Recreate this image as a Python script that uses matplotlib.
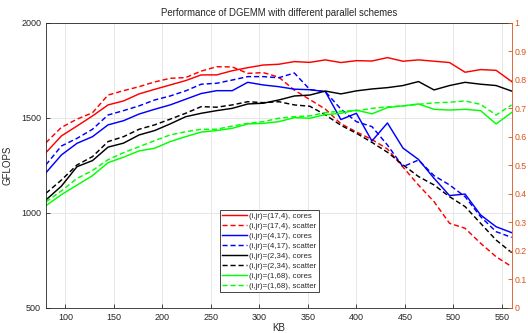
import matplotlib
matplotlib.use('Agg')
import matplotlib.pyplot as plt

plt.rcParams['font.family'] = ['Liberation Sans', 'DejaVu Sans']

kb = [80, 96, 112, 128, 144, 160, 176, 192, 208, 224, 240, 256, 272, 288, 304, 320,
      336, 352, 368, 384, 400, 416, 432, 448, 464, 480, 496, 512, 528, 544, 560]

red_cores = [1316, 1404, 1456, 1509, 1567, 1588, 1625, 1649, 1672, 1695, 1725, 1725, 1747, 1763, 1777, 1781,
             1795, 1791, 1804, 1790, 1800, 1798, 1816, 1797, 1804, 1797, 1790, 1739, 1753, 1749, 1690]
red_scatter = [1368, 1449, 1492, 1526, 1619, 1642, 1663, 1688, 1707, 1711, 1745, 1768, 1767, 1733, 1737, 1713,
               1645, 1595, 1545, 1468, 1425, 1385, 1335, 1240, 1145, 1058, 944, 918, 839, 768, 716]
blue_cores = [1210, 1304, 1365, 1400, 1462, 1484, 1519, 1544, 1567, 1597, 1627, 1642, 1642, 1686, 1672, 1663,
              1650, 1647, 1637, 1490, 1523, 1377, 1472, 1340, 1280, 1181, 1090, 1098, 988, 926, 895]
blue_scatter = [1252, 1351, 1391, 1439, 1514, 1537, 1562, 1593, 1614, 1641, 1676, 1681, 1698, 1716, 1716, 1710,
                1735, 1648, 1637, 1545, 1479, 1453, 1356, 1242, 1277, 1195, 1146, 1084, 979, 900, 870]
black_cores = [1067, 1140, 1242, 1274, 1345, 1366, 1409, 1432, 1467, 1505, 1523, 1537, 1549, 1572, 1576, 1593,
               1614, 1619, 1640, 1625, 1641, 1651, 1658, 1669, 1690, 1646, 1669, 1686, 1676, 1669, 1640]
black_scatter = [1102, 1172, 1251, 1295, 1374, 1400, 1439, 1462, 1492, 1523, 1558, 1555, 1567, 1584, 1579, 1584,
                 1567, 1560, 1515, 1460, 1418, 1370, 1318, 1252, 1190, 1146, 1084, 1032, 944, 856, 790]
green_cores = [1037, 1095, 1145, 1195, 1263, 1292, 1325, 1339, 1374, 1400, 1424, 1432, 1444, 1467, 1470, 1479,
               1500, 1497, 1516, 1523, 1540, 1520, 1553, 1562, 1572, 1544, 1540, 1544, 1537, 1467, 1527]
green_scatter = [1057, 1115, 1180, 1222, 1279, 1316, 1347, 1379, 1409, 1426, 1439, 1439, 1456, 1470, 1479, 1497,
                 1505, 1509, 1527, 1534, 1536, 1549, 1557, 1562, 1570, 1578, 1581, 1588, 1570, 1514, 1567]

series = [
    (red_cores, 'r', '-', '(i,jr)=(17,4), cores'),
    (red_scatter, 'r', '--', '(i,jr)=(17,4), scatter'),
    (blue_cores, 'b', '-', '(i,jr)=(4,17), cores'),
    (blue_scatter, 'b', '--', '(i,jr)=(4,17), scatter'),
    (black_cores, 'k', '-', '(i,jr)=(2,34), cores'),
    (black_scatter, 'k', '--', '(i,jr)=(2,34), scatter'),
    (green_cores, '#00ff00', '-', '(i,jr)=(1,68), cores'),
    (green_scatter, '#00ff00', '--', '(i,jr)=(1,68), scatter'),
]

axcol = '#262626'
orange = '#D95319'

fig = plt.figure(figsize=(5.28, 3.33), dpi=100)
ax = fig.add_axes([0.087, 0.076, 0.882, 0.856])

for vals, c, ls, lab in series:
    line, = ax.plot(kb, vals, color=c, linestyle=ls, linewidth=1.05, label=lab)
    if ls == '--':
        line.set_dashes((3.5, 2))

ax.set_xlim(80, 560)
ax.set_ylim(500, 2000)
ax.set_xticks([100, 150, 200, 250, 300, 350, 400, 450, 500, 550])
ax.set_yticks([500, 1000, 1500, 2000])
ax.grid(True, color='#e3e3e3', linewidth=0.6)
ax.set_axisbelow(True)
ax.tick_params(direction='in', length=3, width=0.6, labelsize=6.5, colors=axcol, top=False)
for s in ['left', 'bottom', 'top']:
    ax.spines[s].set_color(axcol)
    ax.spines[s].set_linewidth(0.6)
ax.spines['right'].set_visible(False)
ax.set_xlabel('KB', fontsize=7, color=axcol, labelpad=1)
ax.set_ylabel('GFLOPS', fontsize=7, color=axcol, labelpad=6)
ax.set_title('Performance of DGEMM with different parallel schemes', fontsize=6.9, color=axcol, pad=5)

ax2 = ax.twinx()
ax2.set_ylim(0, 1)
ax2.set_yticks([0, 0.1, 0.2, 0.3, 0.4, 0.5, 0.6, 0.7, 0.8, 0.9, 1])
ax2.set_yticklabels(['0', '0.1', '0.2', '0.3', '0.4', '0.5', '0.6', '0.7', '0.8', '0.9', '1'])
ax2.tick_params(direction='in', length=3, width=0.6, labelsize=6.3, colors=orange, pad=2)
ax2.spines['right'].set_color(orange)
ax2.spines['right'].set_linewidth(0.6)
for s in ['left', 'bottom', 'top']:
    ax2.spines[s].set_visible(False)

leg = ax.legend(loc='lower left', bbox_to_anchor=(0.373, 0.055), fontsize=5.7,
                handlelength=3.2, handletextpad=0.2, labelspacing=0.3, borderpad=0.3,
                borderaxespad=0, fancybox=False, framealpha=1, edgecolor=axcol)
leg.get_frame().set_linewidth(0.6)
for t in leg.get_texts():
    t.set_color(axcol)

fig.savefig('out.png', dpi=100)
